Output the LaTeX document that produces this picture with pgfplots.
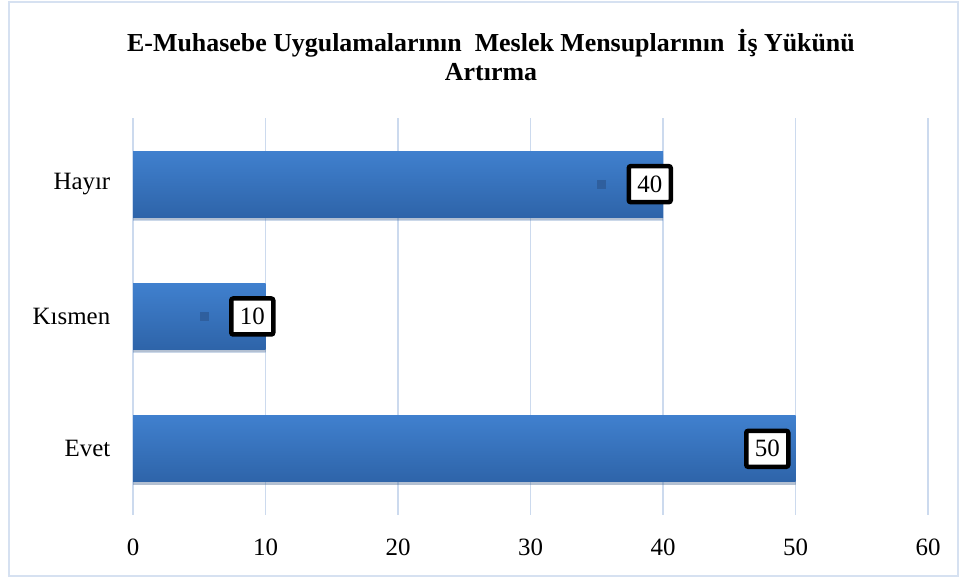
\documentclass[border=0pt]{standalone}
\usepackage{fontspec}
\setmainfont{Liberation Serif}
\usepackage{pgfplots}
\pgfplotsset{compat=1.18}
\usetikzlibrary{shadows}
\definecolor{bartop}{HTML}{4080CE}
\definecolor{barbot}{HTML}{2E64A9}
\definecolor{sqc}{HTML}{2F5F9E}
\definecolor{gridc}{HTML}{CCDAEE}
\definecolor{framec}{HTML}{D6E1F1}

\tikzset{
  lbl/.style={draw=black, line width=4.5bp, fill=white, rounded corners=2bp,
    inner sep=2bp, minimum width=42bp, minimum height=36bp, text=black,
    font=\fontsize{25}{25}\selectfont},
  keysq/.style={
    label={[fill=sqc, draw=none, minimum size=9bp, inner sep=0pt, xshift=-20bp]left:{}}},
  barsty/.style={draw=none, top color=bartop, bottom color=barbot,
    drop shadow={shadow xshift=0bp, shadow yshift=-3bp, opacity=0.25}},
}

\begin{document}
\begin{tikzpicture}[x=1bp,y=1bp]
\path (0,0) rectangle (965,579);
\draw[framec, line width=2.5bp] (9,3) rectangle (958,577);
\node[font=\bfseries\fontsize{26}{30}\selectfont, align=center] at (491,524)
  {E-Muhasebe Uygulamalarının\ \ Meslek Mensuplarının\ \ İş Yükünü\\Artırma};
\begin{axis}[
    at={(133bp,64bp)}, anchor=south west,
    scale only axis, width=795bp, height=397bp,
    xbar, bar shift=0pt, bar width=66bp,
    xmin=0, xmax=60, ymin=-0.5, ymax=2.5,
    xtick={0,10,...,60},
    ytick={0,1,2}, yticklabels={Evet,Kısmen,Hayır},
    xmajorgrids=true,
    grid style={gridc, line width=1.5bp},
    axis line style={draw=none},
    major tick style={draw=none},
    tick label style={font=\fontsize{25}{25}\selectfont},
    /pgf/number format/assume math mode=true,
    xticklabel style={yshift=-20bp},
    yticklabel style={xshift=-15bp},
    clip=false,
  ]
  \addplot[barsty,
    nodes near coords, nodes near coords style={lbl, anchor=east, xshift=-5bp}]
    coordinates {(50,0)};
  \addplot[barsty,
    nodes near coords, nodes near coords style={lbl, keysq, anchor=east, xshift=10bp}]
    coordinates {(10,1)};
  \addplot[barsty,
    nodes near coords, nodes near coords style={lbl, keysq, anchor=east, xshift=10bp}]
    coordinates {(40,2)};
\end{axis}
\end{tikzpicture}
\end{document}
